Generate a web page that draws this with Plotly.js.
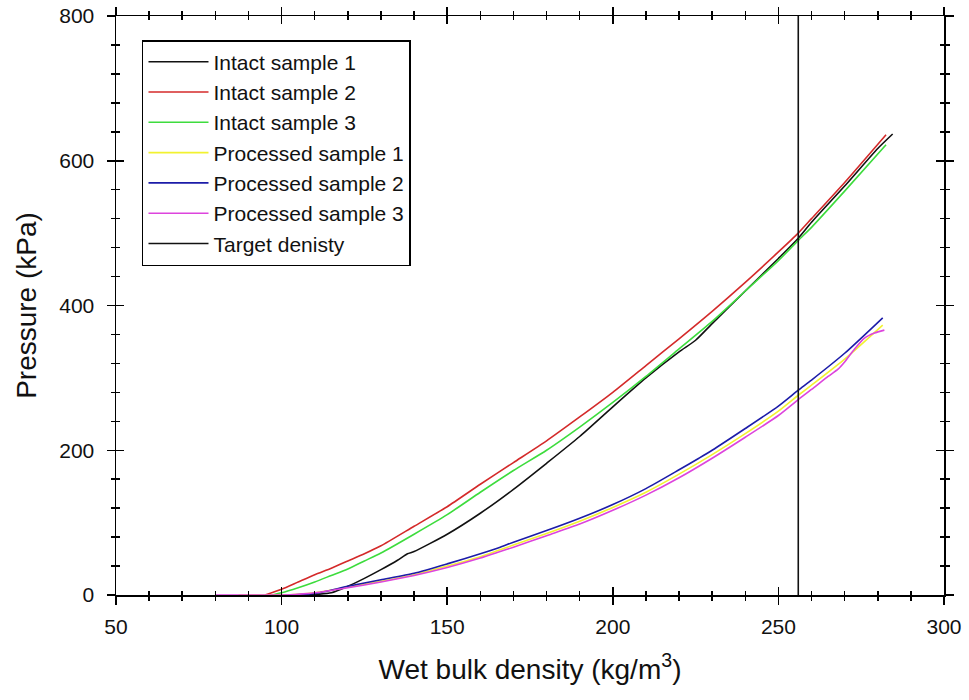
<!DOCTYPE html>
<html><head><meta charset="utf-8">
<script src="https://cdn.plot.ly/plotly-3.0.1.min.js"></script>
<style>html,body{margin:0;padding:0;background:#fff}</style>
</head><body>
<div id="chart" style="width:969px;height:700px"></div>
<script>
// Intact sample 1 (black)
const intact1X = [108,115,120,125,130,135,138,140,150,160,170,180,190,200,210,220,225,230,240,250,256,260,270,280,284.5];
const intact1Y = [0,3,12,23,35,48,57,60,84,113,146,182,219,260,300,336,352,375,420,465,493,515,565,617,637];
// Intact sample 2 (red)
const intact2X = [95,100,105,110,115,120,125,130,140,150,160,170,180,190,200,210,220,230,240,250,256,260,270,282.5];
const intact2Y = [0,8,18,28,37,47,57,68,95,122,153,183,213,246,280,317,354,392,432,474,500,520,570,636];
// Intact sample 3 (green)
const intact3X = [97,100,105,110,115,120,125,130,140,150,160,170,180,190,200,210,220,230,240,250,256,260,270,282.5];
const intact3Y = [0,3,10,18,27,36,47,58,84,111,142,172,200,232,266,302,340,378,420,462,490,508,558,622];
// Processed sample 1 (yellow)
const proc1X = [87,95,100,105,110,120,130,140,150,160,170,180,190,200,210,220,230,240,250,256,260,270,281.5];
const proc1Y = [0,0,0,1,3,11,19,28,40,53,69,85,102,121,142,167,194,223,254,276,290,326,373];
// Processed sample 2 (blue)
const proc2X = [103,110,120,130,140,150,160,166,170,180,190,200,210,220,226,230,240,250,256,260,270,281.5];
const proc2Y = [0,2,12,21,30,43,57,66,73,89,106,125,147,173,189,200,230,261,283,297,334,383];
// Processed sample 3 (magenta)
const proc3X = [80,90,100,105,110,120,130,140,150,160,166,170,180,190,200,210,220,230,240,250,256,260,265,268,270,273,276,279,282];
const proc3Y = [0,0,0,1,3,10,18,27,38,51,60,66,82,98,117,138,162,189,218,248,270,284,302,312,322,340,355,362,366];
// Target density
const targetX = [256,256];
const targetY = [0,800];

const names = ["Intact sample 1","Intact sample 2","Intact sample 3","Processed sample 1","Processed sample 2","Processed sample 3","Target denisty"];
const colors = ["#111111","#d42a2a","#3ddc3d","#f2f230","#1c1ca8","#dd44dd","#111111"];
const xs = [intact1X,intact2X,intact3X,proc1X,proc2X,proc3X,targetX];
const ys = [intact1Y,intact2Y,intact3Y,proc1Y,proc2Y,proc3Y,targetY];

const traces = names.map((n,i)=>({
  x: xs[i], y: ys[i], name: n, type:'scatter', mode:'lines',
  line:{color:colors[i], width:1.6, shape:'spline', smoothing:0.6}, legendgroup:'g'+i
}));
traces.push({x:[50],y:[0],xaxis:'x2',yaxis:'y2',mode:'markers',marker:{opacity:0},showlegend:false,hoverinfo:'skip'});

const fontFam = '"Liberation Sans", Arial, sans-serif';
const baseAx = {
  showgrid:false, zeroline:false, showline:true, linecolor:'#000', linewidth:1.5,
  ticks:'outside', ticklen:8, tickwidth:1.5, tickcolor:'#000', mirror:'ticks'
};
const layout = {
  width:969, height:700,
  margin:{l:116, r:25, t:16, b:105},
  paper_bgcolor:'#fff', plot_bgcolor:'#fff',
  font:{family:fontFam, color:'#111', size:21},
  showlegend:true,
  legend:{x:0.0314, y:0.9585, xanchor:'left', yanchor:'top', bgcolor:'#fff',
    bordercolor:'#000', borderwidth:1.5, font:{size:21, family:fontFam, color:'#111'},
    traceorder:'normal', itemwidth:60},
  xaxis: Object.assign({}, baseAx, {range:[50,300], tickvals:[50,100,150,200,250,300], ticktext:['50','100','150','200','250','300'],
    minor:{dtick:10, ticks:'outside', ticklen:4, tickwidth:1.5, tickcolor:'#000'},
    tickfont:{size:21}, ticklabelstandoff:4,
    title:{text:'Wet bulk density (kg/m<sup>3</sup>)', font:{size:28}, standoff:22}}),
  yaxis: Object.assign({}, baseAx, {range:[0,800], tickvals:[0,200,400,600,800], ticktext:['0','200','400','600','800'],
    minor:{dtick:40, ticks:'outside', ticklen:4, tickwidth:1.5, tickcolor:'#000'},
    tickfont:{size:21}, ticklabelstandoff:8,
    title:{text:'Pressure (kPa)', font:{size:28}, standoff:14}}),
  xaxis2: Object.assign({}, baseAx, {overlaying:'x', range:[50,300], ticks:'inside', showticklabels:false, dtick:50, tick0:50,
    minor:{dtick:10, ticks:'inside', ticklen:4, tickwidth:1.5, tickcolor:'#000'}}),
  yaxis2: Object.assign({}, baseAx, {overlaying:'y', range:[0,800], ticks:'inside', showticklabels:false, dtick:200, tick0:0,
    minor:{dtick:40, ticks:'inside', ticklen:4, tickwidth:1.5, tickcolor:'#000'}})
};
Plotly.newPlot('chart', traces, layout, {displayModeBar:false, staticPlot:true});
</script>
</body></html>
